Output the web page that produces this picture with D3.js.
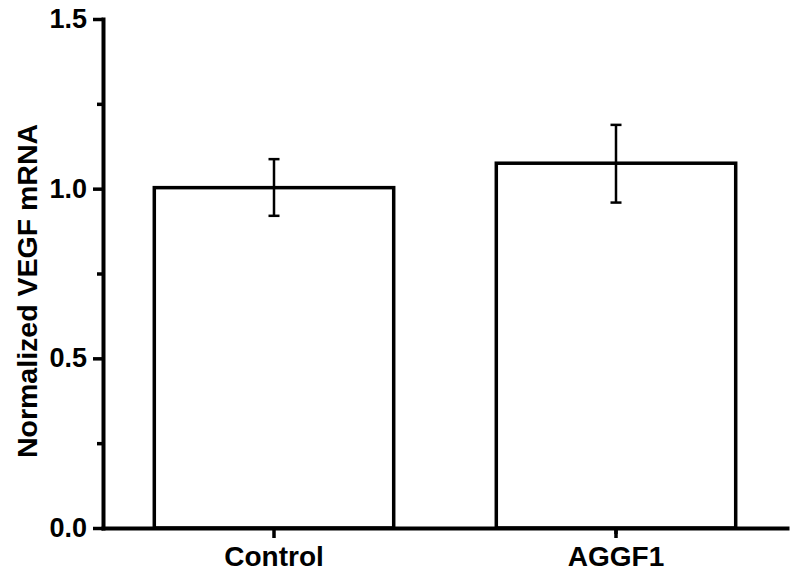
<!DOCTYPE html>
<html>
<head>
<meta charset="utf-8">
<script src="https://cdn.jsdelivr.net/npm/d3@7"></script>
<style>
  body { margin: 0; background: #fff; }
  svg { display: block; }
  text { font-family: "Liberation Sans", Arial, sans-serif; font-weight: bold; fill: #000; }
</style>
</head>
<body>
<svg></svg>
<script>
const width = 795;
const height = 574;
const margin = {left: 103, right: 8, top: 19, bottom: 46};

// data
const categories = ['Control', 'AGGF1'];
const means = [1.003, 1.075];
const errHigh = [1.087, 1.188];
const errLow = [0.920, 0.959];
const yTicks = [0.0, 0.5, 1.0, 1.5];
const yMinorTicks = [0.25, 0.75, 1.25];
const yTitle = 'Normalized VEGF mRNA';

var svg = d3.select('svg').attr('width', width).attr('height', height);

var xScale = d3.scaleBand()
  .domain(categories)
  .range([margin.left, width - margin.right])
  .paddingInner(0.3)
  .paddingOuter(0.15);

var yScale = d3.scaleLinear()
  .domain([0, 1.5])
  .range([height - margin.bottom, margin.top]);

var bars = svg.append('g');
var axes = svg.append('g');

// bars
bars.selectAll('rect.bar')
  .data(categories).enter().append('rect')
  .classed('bar', true)
  .attr('x', d => xScale(d))
  .attr('y', (d, i) => yScale(means[i]))
  .attr('width', xScale.bandwidth())
  .attr('height', (d, i) => yScale(0) - yScale(means[i]))
  .style('fill', '#fff')
  .style('stroke', '#000')
  .style('stroke-width', 3.5);

// error bars
var capW = 11;
var eb = bars.selectAll('g.err').data(categories).enter().append('g').classed('err', true);
eb.append('line')
  .attr('x1', d => xScale(d) + xScale.bandwidth() / 2)
  .attr('x2', d => xScale(d) + xScale.bandwidth() / 2)
  .attr('y1', (d, i) => yScale(errLow[i]))
  .attr('y2', (d, i) => yScale(errHigh[i]));
eb.append('line')
  .attr('x1', d => xScale(d) + xScale.bandwidth() / 2 - capW / 2)
  .attr('x2', d => xScale(d) + xScale.bandwidth() / 2 + capW / 2)
  .attr('y1', (d, i) => yScale(errHigh[i]))
  .attr('y2', (d, i) => yScale(errHigh[i]));
eb.append('line')
  .attr('x1', d => xScale(d) + xScale.bandwidth() / 2 - capW / 2)
  .attr('x2', d => xScale(d) + xScale.bandwidth() / 2 + capW / 2)
  .attr('y1', (d, i) => yScale(errLow[i]))
  .attr('y2', (d, i) => yScale(errLow[i]));
eb.selectAll('line').style('stroke', '#000').style('stroke-width', 2.5);

// y axis minor ticks
axes.append('g')
  .attr('transform', `translate(${margin.left},0)`)
  .call(d3.axisLeft(yScale).tickValues(yMinorTicks).tickSize(6).tickFormat('').tickSizeOuter(0))
  .call(g => g.select('.domain').remove());

// y axis
var yAxis = axes.append('g')
  .attr('transform', `translate(${margin.left},0)`)
  .call(d3.axisLeft(yScale).tickValues(yTicks).tickSize(10).tickPadding(6)
    .tickFormat(d3.format('.1f')).tickSizeOuter(0));
yAxis.selectAll('text').style('font-size', '27px');

// x axis minor ticks between the categories
axes.append('g')
  .attr('transform', `translate(0,${yScale(0)})`)
  .call(d3.axisBottom(xScale).tickValues([categories[1]]).tickSize(6).tickFormat('')
    .offset(-xScale.step() / 2 + xScale.bandwidth() / 2).tickSizeOuter(0))
  .call(g => g.select('.domain').remove());

// x axis
var xAxis = axes.append('g')
  .attr('transform', `translate(0,${yScale(0)})`)
  .call(d3.axisBottom(xScale).tickSize(10).tickPadding(8).tickSizeOuter(0));
xAxis.selectAll('text').style('font-size', '28px');

axes.selectAll('.domain').style('stroke-width', 4).style('stroke-linecap', 'square');
axes.selectAll('.tick line').style('stroke-width', 3.5);

// y title
svg.append('text')
  .attr('transform', `translate(37,291) rotate(-90)`)
  .attr('text-anchor', 'middle')
  .style('font-size', '28.5px')
  .text(yTitle);
</script>
</body>
</html>
